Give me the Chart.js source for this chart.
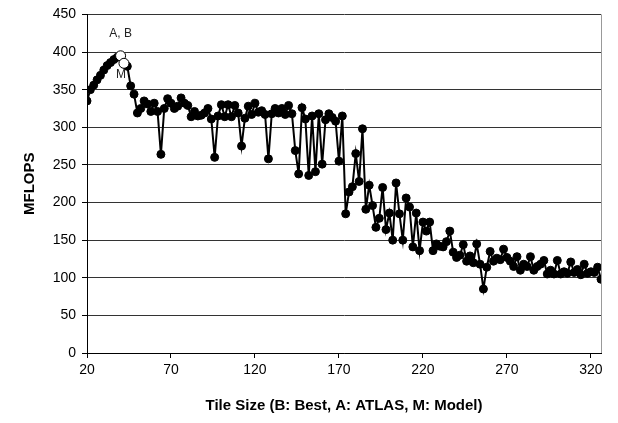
<!DOCTYPE html>
<html>
<head>
<meta charset="utf-8">
<script src="https://cdn.jsdelivr.net/npm/chart.js@4.4.1/dist/chart.umd.min.js"></script>
<style>
  html, body { margin: 0; padding: 0; background: #fff; }
  #wrap { width: 618px; height: 423px; }
</style>
</head>
<body>
<div id="wrap"><canvas id="chart" width="618" height="423"></canvas></div>
<script>
// Tile sizes (x) and measured MFLOPS (y)
const tileSizes = [
  20, 22, 24, 26, 28, 30, 32, 34, 36, 38, 40, 42, 44, 46, 48, 50, 52, 54, 56, 58,
  60, 62, 64, 66, 68, 70, 72, 74, 76, 78, 80, 82, 84, 86, 88, 90, 92, 94, 96, 98,
  100, 102, 104, 106, 108, 110, 112, 114, 116, 118, 120, 122, 124, 126, 128, 130, 132, 134, 136, 138,
  140, 142, 144, 146, 148, 150, 152, 154, 156, 158, 160, 162, 164, 166, 168, 170, 172, 174, 176, 178,
  180, 182, 184, 186, 188, 190, 192, 194, 196, 198, 200, 202, 204, 206, 208, 210, 212, 214, 216, 218,
  220, 222, 224, 226, 228, 230, 232, 234, 236, 238, 240, 242, 244, 246, 248, 250, 252, 254, 256, 258,
  260, 262, 264, 266, 268, 270, 272, 274, 276, 278, 280, 282, 284, 286, 288, 290, 292, 294, 296, 298,
  300, 302, 304, 306, 308, 310, 312, 314, 316, 318, 320, 322, 324, 326
];
const mflops = [
  335, 350, 356, 363, 369, 376, 382, 386, 390, 393, 395, 385, 381, 355, 344, 319, 325, 335, 331, 321,
  332, 321, 264, 325, 338, 332, 325, 328, 339, 332, 329, 314, 321, 315, 316, 319, 325, 311, 260, 315,
  330, 314, 330, 314, 329, 319, 275, 312, 328, 317, 332, 320, 322, 317, 258, 318, 325, 319, 325, 317,
  329, 318, 269, 238, 326, 311, 236, 315, 241, 318, 251, 310, 318, 313, 308, 255, 315, 185, 214, 221,
  265, 228, 298, 191, 223, 196, 167, 179, 220, 164, 186, 150, 226, 185, 150, 206, 194, 141, 186, 136,
  174, 162, 174, 136, 145, 142, 141, 148, 162, 134, 127, 130, 144, 122, 129, 120, 145, 118, 85, 114,
  135, 122, 126, 124, 138, 127, 122, 115, 128, 110, 118, 115, 128, 110, 115, 118, 123, 105, 110, 105,
  123, 105, 108, 106, 121, 107, 111, 104, 118, 106, 108, 107, 114, 98
];

// Highlighted points: B/A (best + ATLAS) and M (model)
const markSizes = [40, 42];
const markValues = [395, 385];
const markLabels = ['A, B', 'M'];
const markLabelOffsets = [[0, -22], [-3, 11]];

const xTickValues = [20, 70, 120, 170, 220, 270, 320];

const FONT = '"Liberation Sans", Arial, sans-serif';

const markLabelPlugin = {
  id: 'markLabels',
  afterDatasetsDraw(chart) {
    const meta = chart.getDatasetMeta(1);
    const ctx = chart.ctx;
    ctx.save();
    ctx.font = '12px ' + FONT;
    ctx.fillStyle = '#222';
    ctx.textAlign = 'center';
    ctx.textBaseline = 'middle';
    meta.data.forEach((pt, i) => {
      const off = markLabelOffsets[i];
      ctx.fillText(markLabels[i], pt.x + off[0], pt.y + off[1]);
    });
    ctx.restore();
  }
};

// right edge of the plot area (gray frame line)
const frameRightPlugin = {
  id: 'frameRight',
  beforeDatasetsDraw(chart) {
    const { ctx, chartArea } = chart;
    ctx.save();
    ctx.strokeStyle = '#999';
    ctx.lineWidth = 1;
    ctx.beginPath();
    ctx.moveTo(chartArea.right + 0.5, chartArea.top);
    ctx.lineTo(chartArea.right + 0.5, chartArea.bottom);
    ctx.stroke();
    ctx.restore();
  }
};

new Chart(document.getElementById('chart'), {
  type: 'line',
  data: {
    datasets: [
      {
        label: 'MFLOPS',
        data: tileSizes.map((t, i) => ({ x: t, y: mflops[i] })),
        borderColor: '#000',
        borderWidth: 2,
        pointRadius: 4,
        pointBackgroundColor: '#000',
        pointBorderColor: '#000',
        pointBorderWidth: 1,
        tension: 0,
        order: 2
      },
      {
        label: 'marks',
        data: markSizes.map((t, i) => ({ x: t, y: markValues[i] })),
        showLine: false,
        pointRadius: 5,
        pointBackgroundColor: '#fff',
        pointBorderColor: '#000',
        pointBorderWidth: 1,
        order: 1
      }
    ]
  },
  options: {
    responsive: false,
    animation: false,
    layout: { padding: { top: 10, right: 17, bottom: 0, left: 0 } },
    plugins: {
      legend: { display: false },
      tooltip: { enabled: false }
    },
    scales: {
      x: {
        type: 'linear',
        min: 20,
        max: 326,
        afterBuildTicks: s => { s.ticks = xTickValues.map(v => ({ value: v })); },
        afterFit: s => { s.height = 70; },
        grid: {
          drawOnChartArea: false,
          drawTicks: true,
          tickLength: 5,
          tickColor: '#000'
        },
        border: { display: true, color: '#000', width: 1 },
        ticks: {
          color: '#000',
          font: { family: FONT, size: 14 },
          padding: 4,
          maxRotation: 0
        },
        title: {
          display: true,
          text: 'Tile Size (B: Best, A: ATLAS, M: Model)',
          color: '#000',
          font: { family: FONT, size: 15, weight: 'bold' },
          padding: { top: 0, bottom: 8 }
        }
      },
      y: {
        min: 0,
        max: 450,
        ticks: {
          stepSize: 50,
          color: '#000',
          font: { family: FONT, size: 14 },
          padding: 6
        },
        afterFit: s => { s.width = 87; },
        grid: {
          color: '#333',
          lineWidth: 1,
          drawTicks: true,
          tickLength: 5,
          tickColor: '#000'
        },
        border: { display: true, color: '#000', width: 1 },
        title: {
          display: true,
          text: 'MFLOPS',
          color: '#000',
          font: { family: FONT, size: 15, weight: 'bold' },
          padding: { top: 21, bottom: 0 }
        }
      }
    }
  },
  plugins: [frameRightPlugin, markLabelPlugin]
});
</script>
</body>
</html>
